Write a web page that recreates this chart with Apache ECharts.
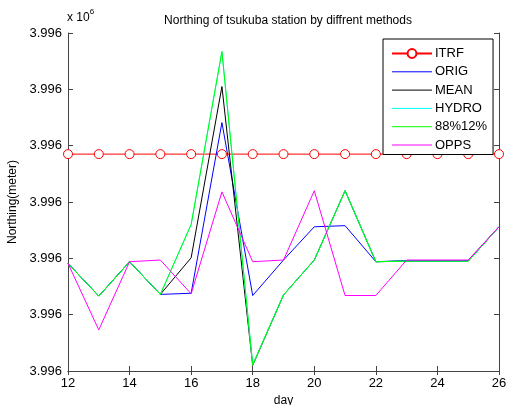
<!DOCTYPE html>
<html>
<head>
<meta charset="utf-8">
<script src="https://cdn.jsdelivr.net/npm/echarts@6/dist/echarts.min.js"></script>
<style>
  html, body { margin: 0; padding: 0; background: #fff; }
  #chart { width: 508px; height: 405px; }
</style>
</head>
<body>
<div id="chart"></div>
<script>
// values in tick units above the bottom of the axis (all ticks read 3.996 x 10^6)
var days = [12, 13, 14, 15, 16, 17, 18, 19, 20, 21, 22, 23, 24, 25, 26];
var itrf = [3.85, 3.85, 3.85, 3.85, 3.85, 3.85, 3.85, 3.85, 3.85, 3.85, 3.85, 3.85, 3.85, 3.85, 3.85];
var orig = [1.91, 1.33, 1.94, 1.36, 1.38, 4.41, 1.34, 1.97, 2.56, 2.58, 1.94, 1.96, 1.96, 1.96, 2.56];
var mean = [1.91, 1.33, 1.94, 1.36, 2.01, 5.05, 0.10, 1.35, 1.97, 3.20, 1.94, 1.95, 1.95, 1.95, 2.56];
var hydro = [1.91, 1.33, 1.94, 1.36, 2.60, 5.67, 0.11, 1.35, 1.97, 3.20, 1.94, 1.95, 1.95, 1.95, 2.56];
var p8812 = [1.91, 1.33, 1.94, 1.36, 2.60, 5.67, 0.11, 1.35, 1.97, 3.20, 1.94, 1.95, 1.95, 1.95, 2.56];
var opps = [1.91, 0.73, 1.94, 1.97, 1.37, 3.18, 1.94, 1.97, 3.20, 1.34, 1.34, 1.97, 1.97, 1.97, 2.56];
var yTickLabel = '3.996';

var colors = {
  ITRF: '#ff0000', ORIG: '#0000ff', MEAN: '#000000',
  HYDRO: '#00ffff', '88%12%': '#00ff00', OPPS: '#ff00ff'
};

function pairs(vals) {
  return days.map(function (d, i) { return [d, vals[i]]; });
}

var font = 'Liberation Sans, Arial, sans-serif';
var axisColor = '#444';

function lineSeries(name, vals) {
  return {
    name: name,
    type: 'line',
    data: pairs(vals),
    symbol: 'none',
    lineStyle: { color: colors[name], width: 1 },
    itemStyle: { color: colors[name] },
    animation: false
  };
}

// legend entries without a marker: hide the symbol, keep the line
function plainItem(name) {
  return {
    name: name,
    itemStyle: { opacity: 0, color: 'rgba(0,0,0,0)', borderWidth: 0 },
    lineStyle: { color: colors[name], width: 1 }
  };
}

var chart = echarts.init(document.getElementById('chart'));
var option = {
  backgroundColor: '#fff',
  textStyle: { fontFamily: font },
  title: {
    text: 'Northing of tsukuba station by diffrent methods',
    left: 283, top: 10, textAlign: 'center',
    textStyle: { fontSize: 12, fontWeight: 'normal', color: '#000', fontFamily: font }
  },
  grid: { left: 68, right: 9, top: 33, bottom: 34, show: false, containLabel: false, outerBoundsMode: 'none' },
  legend: {
    orient: 'vertical',
    left: 383, top: 39,
    padding: [8, 6, 3, 8],
    itemWidth: 40, itemHeight: 11, itemGap: 5.3,
    textStyle: { fontSize: 13, color: '#000', fontFamily: font, padding: [0, 0, 0, -2] },
    borderColor: '#000', borderWidth: 1, backgroundColor: '#fff',
    data: ['ITRF', plainItem('ORIG'), plainItem('MEAN'), plainItem('HYDRO'), plainItem('88%12%'), plainItem('OPPS')]
  },
  xAxis: [{
    type: 'value', min: 12, max: 26, interval: 2,
    name: 'day', nameLocation: 'middle', nameGap: 22,
    nameTextStyle: { fontSize: 12, color: '#000' },
    axisLine: { lineStyle: { color: axisColor } },
    axisTick: { inside: true, length: 5, lineStyle: { color: axisColor } },
    axisLabel: { fontSize: 13, color: '#000', margin: 6 },
    splitLine: { show: false }
  }, {
    type: 'value', min: 12, max: 26, interval: 2, position: 'top',
    axisLine: { show: true, lineStyle: { color: axisColor } },
    axisTick: { inside: true, length: 4, lineStyle: { color: axisColor } },
    axisLabel: { show: false },
    splitLine: { show: false }
  }],
  yAxis: [{
    type: 'value', min: 0, max: 6, interval: 1,
    name: 'Northing(meter)', nameLocation: 'middle', nameGap: 46,
    nameTextStyle: { fontSize: 12, color: '#000' },
    axisLine: { show: true, lineStyle: { color: axisColor } },
    axisTick: { show: true, inside: true, length: 5, lineStyle: { color: axisColor } },
    axisLabel: { fontSize: 13, color: '#000', margin: 6, formatter: function () { return yTickLabel; } },
    splitLine: { show: false }
  }, {
    type: 'value', min: 0, max: 6, interval: 1, position: 'right',
    axisLine: { show: true, lineStyle: { color: axisColor } },
    axisTick: { show: true, inside: true, length: 5, lineStyle: { color: axisColor } },
    axisLabel: { show: false },
    splitLine: { show: false }
  }],
  graphic: [{
    type: 'text', left: 67, top: 8,
    style: {
      text: '{a|x 10}{b|6}',
      rich: {
        a: { fontSize: 12, fill: '#000', fontFamily: font, padding: [4, 0, 0, 0] },
        b: { fontSize: 8, fill: '#000', fontFamily: font, verticalAlign: 'top' }
      }
    }
  }],
  series: [
    {
      name: 'ITRF', type: 'line', data: pairs(itrf),
      symbol: 'circle', symbolSize: 9,
      lineStyle: { color: colors.ITRF, width: 1 },
      itemStyle: { color: '#fff', borderColor: colors.ITRF, borderWidth: 1 },
      animation: false
    },
    lineSeries('ORIG', orig),
    lineSeries('MEAN', mean),
    lineSeries('HYDRO', hydro),
    lineSeries('88%12%', p8812),
    lineSeries('OPPS', opps)
  ]
};
chart.setOption(option);
</script>
</body>
</html>
